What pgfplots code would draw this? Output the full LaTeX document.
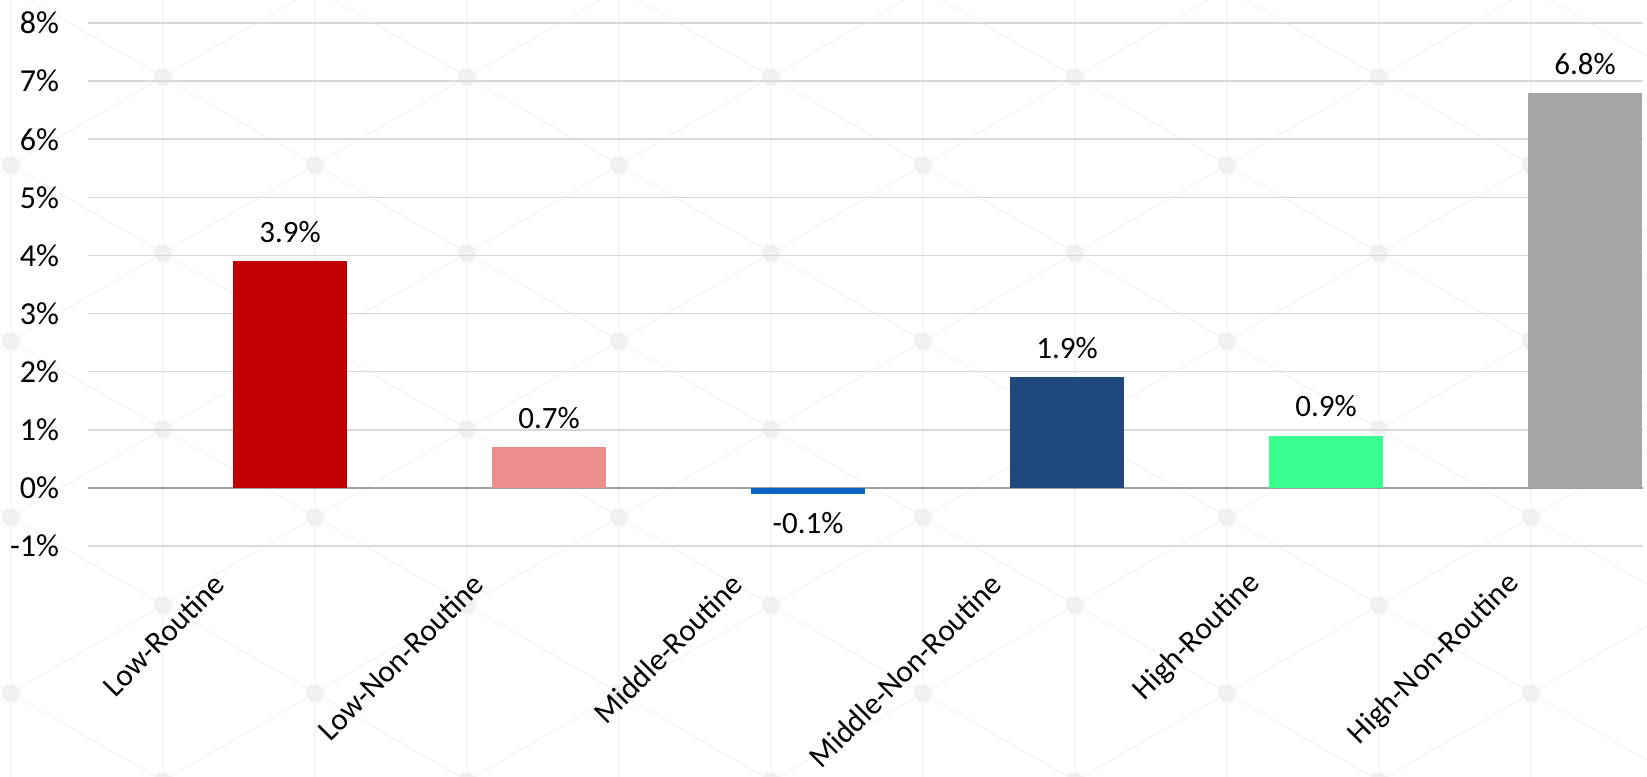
\documentclass[border=0pt]{standalone}
\usepackage{pgfplots}
\pgfplotsset{compat=1.18}
\usepackage{fontspec}
\setmainfont{Carlito}
\usetikzlibrary{shapes.geometric}
\definecolor{barred}{HTML}{C00000}
\definecolor{barpink}{HTML}{EC8E8E}
\definecolor{barblue}{HTML}{0A64C0}
\definecolor{barnavy}{HTML}{1F497D}
\definecolor{bargreen}{HTML}{38FF8E}
\definecolor{bargray}{HTML}{A6A6A6}
\definecolor{grid}{HTML}{D9D9D9}
\definecolor{zeroline}{HTML}{A0A0A0}
\definecolor{wm}{HTML}{F5F5F5}
\definecolor{wmdot}{HTML}{F1F1F1}
\begin{document}
\begin{tikzpicture}
% faint watermark lattice behind the chart
\begin{scope}[x=1bp, y=1bp]
\clip (-44,-115.5) rectangle (779.5,273);
\foreach \c in {-6,...,10}
  \draw[wm, line width=0.7bp] (-44,{281.7+88*\c}) -- (779.5,{-195+88*\c});
\foreach \c in {-11,...,3}
  \draw[wm, line width=0.7bp] (-44,{187.3+88*\c}) -- (779.5,{664+88*\c});
\foreach \k in {-1,...,10}
  \draw[wm, line width=0.7bp] ({37.5+76*\k},-115.5) -- ({37.5+76*\k},273);
\foreach \k in {-1,...,10}
  \foreach \j in {-4,...,10}
    \node[regular polygon, regular polygon sides=6, fill=wmdot, minimum size=10bp, inner sep=0pt] at ({37.5+76*\k},{234.5-44*\k+88*\j}) {};
\end{scope}
\begin{axis}[
  at={(0,0)}, anchor=south west,
  scale only axis, width=777.5bp, height=261.5bp,
  ybar, bar width=57bp,
  xmin=-0.78, xmax=5.224,
  ymin=-1, ymax=8,
  ytick={-1,0,...,8},
  yticklabel={\pgfmathprintnumber{\tick}\%},
  yticklabel style={font=\fontsize{16bp}{18bp}\selectfont, xshift=-11bp},
  xtick={-0.26,0.74,1.74,2.74,3.74,4.74},
  xticklabels={Low-Routine,Low-Non-Routine,Middle-Routine,Middle-Non-Routine,High-Routine,High-Non-Routine},
  xticklabel style={font=\fontsize{15.5bp}{17bp}\selectfont, yshift=-16.5bp, xshift=-1.5bp, rotate=45, anchor=east, inner sep=0pt},
  /pgf/number format/assume math mode=true,
  axis line style={draw=none},
  major tick length=0pt,
  ymajorgrids, grid style={draw=grid, line width=0.8bp},
  extra y ticks={0}, extra y tick labels={},
  extra y tick style={grid style={draw=zeroline, line width=1bp}},
  nodes near coords={\pgfmathprintnumber[fixed,fixed zerofill,precision=1]{\pgfplotspointmeta}\%},
  every node near coord/.append style={font=\fontsize{15.5bp}{17bp}\selectfont, text=black, inner sep=9bp},
]
\addplot[fill=barred, draw=none, bar shift=0pt] coordinates {(0,3.9)};
\addplot[fill=barpink, draw=none, bar shift=0pt] coordinates {(1,0.7)};
\addplot[fill=barblue, draw=none, bar shift=0pt] coordinates {(2,-0.1)};
\addplot[fill=barnavy, draw=none, bar shift=0pt] coordinates {(3,1.9)};
\addplot[fill=bargreen, draw=none, bar shift=0pt] coordinates {(4,0.9)};
\addplot[fill=bargray, draw=none, bar shift=0pt] coordinates {(5,6.8)};
\end{axis}
\pgfresetboundingbox
\useasboundingbox (-44bp,-115.5bp) rectangle (779.5bp,273bp);
\end{tikzpicture}
\end{document}
